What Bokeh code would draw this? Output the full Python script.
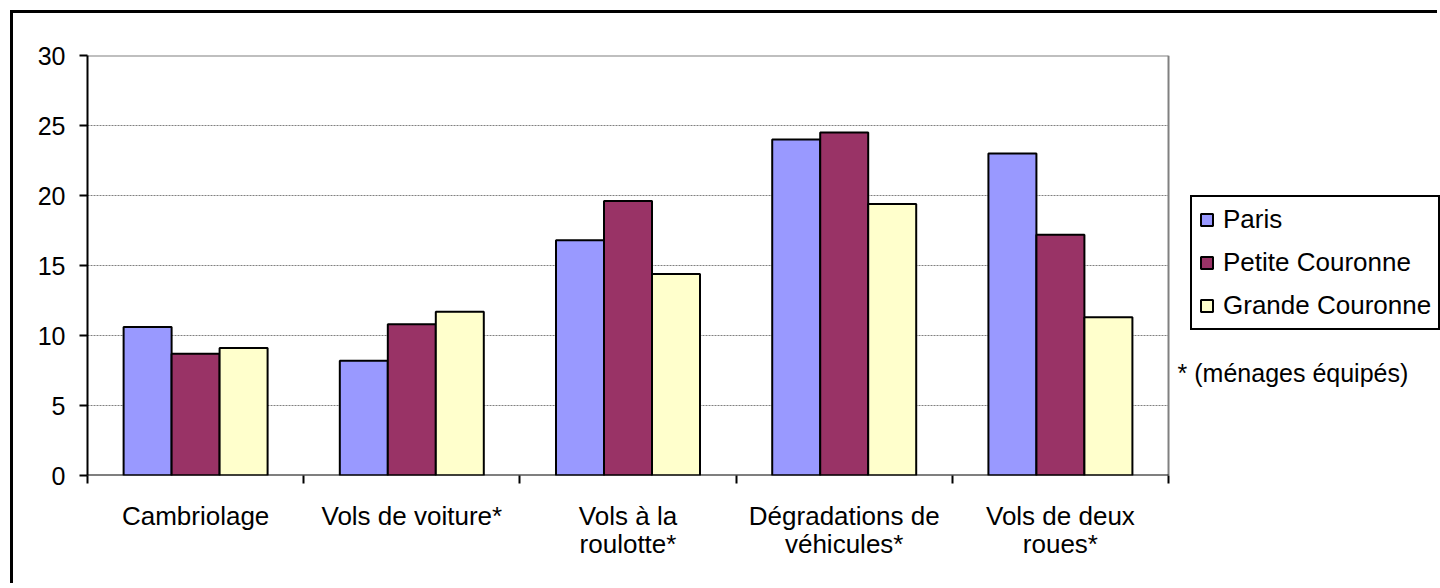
from bokeh.plotting import figure
from bokeh.models import FixedTicker, Legend, LegendItem, Label, Range1d, ColumnDataSource
from bokeh.transform import dodge
from bokeh.embed import file_html
from bokeh.resources import INLINE

categories = ["Cambriolage", "Vols de voiture*", "Vols à la\nroulotte*",
              "Dégradations de\nvéhicules*", "Vols de deux\nroues*"]
series_names = ["Paris", "Petite Couronne", "Grande Couronne"]
paris = [10.6, 8.2, 16.8, 24.0, 23.0]
petite = [8.7, 10.8, 19.6, 24.5, 17.2]
grande = [9.1, 11.7, 14.4, 19.4, 11.3]
colors = ["#9999FF", "#993366", "#FFFFCC"]
y_ticks = [0, 5, 10, 15, 20, 25, 30]
note = "* (ménages équipés)"

FONT = "Liberation Sans"
n_cat = len(categories)
y_max = y_ticks[-1]

xs = [i + 0.5 for i in range(n_cat)]
src = ColumnDataSource(dict(x=xs, paris=paris, petite=petite, grande=grande))

# frame extends to the right edge so that legend and note are not clipped;
# the category area occupies [0, n_cat] of the x range
p = figure(width=1427, height=573, output_backend="svg", toolbar_location=None,
           x_range=Range1d(0, 6.258), y_range=Range1d(0, y_max),
           min_border_left=74, min_border_top=42, min_border_right=0,
           min_border_bottom=111, background_fill_color="white",
           border_fill_color="white")
p.styles = {"border-top": "3px solid black", "border-left": "3px solid black",
            "margin-top": "10px", "margin-left": "10px"}
p.outline_line_color = None
p.xgrid.grid_line_color = None
p.ygrid.grid_line_color = None

# gridlines (plot area only)
grid_y = y_ticks[1:-1]
p.segment(x0=[0] * len(grid_y), x1=[n_cat] * len(grid_y), y0=grid_y, y1=grid_y,
          line_color="#808080", line_width=1, line_dash="2 1")
# plot-area border (top and right) in grey
p.segment(x0=[0, n_cat], x1=[n_cat, n_cat], y0=[y_max, 0], y1=[y_max, y_max],
          line_color="#808080", line_width=2)

bw = 0.222
renderers = []
for k, (col, name) in enumerate(zip(["paris", "petite", "grande"], series_names)):
    r = p.vbar(x=dodge("x", (k - 1) * bw, range=p.x_range), top=col, width=bw,
               source=src, fill_color=colors[k], line_color="black", line_width=2)
    renderers.append(r)

# x axis line (only over the category area)
p.segment(x0=[0], x1=[n_cat], y0=[0], y1=[0], line_color="black", line_width=2)

xa = p.xaxis[0]
xa.ticker = FixedTicker(ticks=xs, minor_ticks=list(range(n_cat + 1)))
xa.major_label_overrides = {x: c for x, c in zip(xs, categories)}
xa.major_tick_line_color = None
xa.major_tick_in = 0
xa.major_tick_out = 0
xa.minor_tick_in = 0
xa.minor_tick_out = 8
xa.minor_tick_line_color = "black"
xa.minor_tick_line_width = 2
xa.axis_line_color = None
xa.major_label_text_font = FONT
xa.major_label_text_font_size = "26px"
xa.major_label_text_color = "black"
xa.major_label_text_line_height = 0.95
xa.major_label_standoff = 17

ya = p.yaxis[0]
ya.ticker = FixedTicker(ticks=y_ticks)
ya.minor_tick_line_color = None
ya.major_tick_in = 0
ya.major_tick_out = 8
ya.major_tick_line_width = 2
ya.major_tick_line_color = "black"
ya.axis_line_color = "black"
ya.axis_line_width = 2
ya.major_label_text_font = FONT
ya.major_label_text_font_size = "25px"
ya.major_label_text_color = "black"
ya.major_label_standoff = 14

legend = Legend(items=[LegendItem(label=n, renderers=[r]) for n, r in zip(series_names, renderers)],
                location=(1103, 145), orientation="vertical",
                label_text_font=FONT, label_text_font_size="26px",
                label_text_color="black",
                glyph_width=15, glyph_height=15, label_standoff=9,
                padding=7, spacing=12, label_height=31, margin=0,
                border_line_color="black", border_line_width=2,
                border_line_alpha=1.0,
                background_fill_color="white", background_fill_alpha=1.0)
p.add_layout(legend, "center")

lab = Label(x=5.042, y=7.32, text=note, text_font=FONT, text_font_size="25px",
            text_baseline="middle", text_align="left", text_color="black")
p.add_layout(lab)

open("out.html", "w").write(file_html(p, INLINE))
